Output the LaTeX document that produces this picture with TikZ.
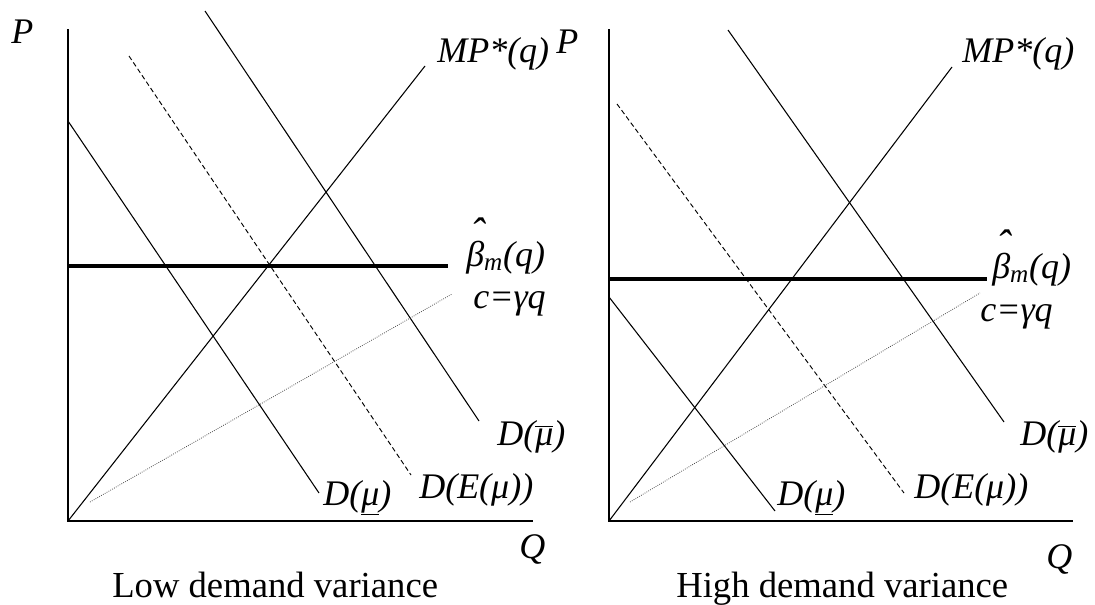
\documentclass[tikz,border=0pt]{standalone}
\usepackage{fontspec}
\setmainfont{Liberation Serif}
\usepackage{tikz}

\begin{document}
\begin{tikzpicture}[
    x=0.75pt, y=-0.75pt,
    axis/.style={line width=1pt},
    demand/.style={line width=0.8pt},
    expdemand/.style={line width=0.7pt, dash pattern=on 3.6pt off 2.2pt},
    mpline/.style={line width=0.8pt},
    betaline/.style={line width=3pt},
    costline/.style={line width=0.6pt, densely dotted, black!70},
    lbl/.style={font=\itshape\fontsize{27}{30}\selectfont, anchor=base west, inner sep=0pt},
    caption/.style={font=\fontsize{27.5}{31}\selectfont, anchor=base west, inner sep=0pt},
]
\useasboundingbox (0,0) rectangle (1095,604);

% low demand variance
\coordinate (oL)     at (68,521);
\coordinate (yL)     at (68,29);
\coordinate (xL)     at (533,521);
\coordinate (lowLa)  at (68,121);
\coordinate (lowLb)  at (319,493);
\coordinate (expLa)  at (129,56);
\coordinate (expLb)  at (411,475);
\coordinate (highLa) at (205,11);
\coordinate (highLb) at (479,421);
\coordinate (mpL)    at (425,66);
\coordinate (betaLa) at (68,266);
\coordinate (betaLb) at (448,266);
\coordinate (costLa) at (90,502);
\coordinate (costLb) at (452,294);

\draw[axis] (yL) -- (oL) -- (xL);
\draw[demand] (lowLa) -- (lowLb);
\draw[expdemand] (expLa) -- (expLb);
\draw[demand] (highLa) -- (highLb);
\draw[mpline] (oL) -- (mpL);
\draw[betaline] (betaLa) -- (betaLb);
\draw[costline] (costLa) -- (costLb);

\node[lbl] (pL)    at (11,43)   {P};
\node[lbl] (mpLt)  at (437,62)  {MP*(q)};
\node[lbl] (betaL) at (466,266) {\rlap{\raisebox{0.52em}{\kern0.13em\fontsize{32}{32}\selectfont ˆ}}β\textsubscript{m}(q)};
\node[lbl] (costL) at (473,308) {c=γq};
\node[lbl] (hiL)   at (497,445) {D($\overline{\mbox{μ}}$)};
\node[lbl] (expL)  at (419,498) {D(E(μ))};
\node[lbl] (loL)   at (323,505) {D(\underline{μ})};
\node[lbl] (qL)    at (519,558) {Q};
\node[caption] (capL) at (112,597) {Low demand variance};

% high demand variance
\coordinate (oR)     at (609,521);
\coordinate (yR)     at (609,29);
\coordinate (xR)     at (1073,521);
\coordinate (lowRa)  at (609,297);
\coordinate (lowRb)  at (775,511);
\coordinate (expRa)  at (617,104);
\coordinate (expRb)  at (904,493);
\coordinate (highRa) at (728,30);
\coordinate (highRb) at (1004,422);
\coordinate (mpR)    at (952,67);
\coordinate (betaRa) at (609,279);
\coordinate (betaRb) at (987,279);
\coordinate (costRa) at (630,502);
\coordinate (costRb) at (980,293);

\draw[axis] (yR) -- (oR) -- (xR);
\draw[demand] (lowRa) -- (lowRb);
\draw[expdemand] (expRa) -- (expRb);
\draw[demand] (highRa) -- (highRb);
\draw[mpline] (oR) -- (mpR);
\draw[betaline] (betaRa) -- (betaRb);
\draw[costline] (costRa) -- (costRb);

\node[lbl] (pR)    at (556,53)   {P};
\node[lbl] (mpRt)  at (962,62)   {MP*(q)};
\node[lbl] (betaR) at (992,278)  {\rlap{\raisebox{0.52em}{\kern0.13em\fontsize{32}{32}\selectfont ˆ}}β\textsubscript{m}(q)};
\node[lbl] (costR) at (980,321)  {c=γq};
\node[lbl] (hiR)   at (1020,445) {D($\overline{\mbox{μ}}$)};
\node[lbl] (expR)  at (914,498)  {D(E(μ))};
\node[lbl] (loR)   at (777,505)  {D(\underline{μ})};
\node[lbl] (qR)    at (1046,568) {Q};
\node[caption] (capR) at (676,597) {High demand variance};

\end{tikzpicture}
\end{document}
